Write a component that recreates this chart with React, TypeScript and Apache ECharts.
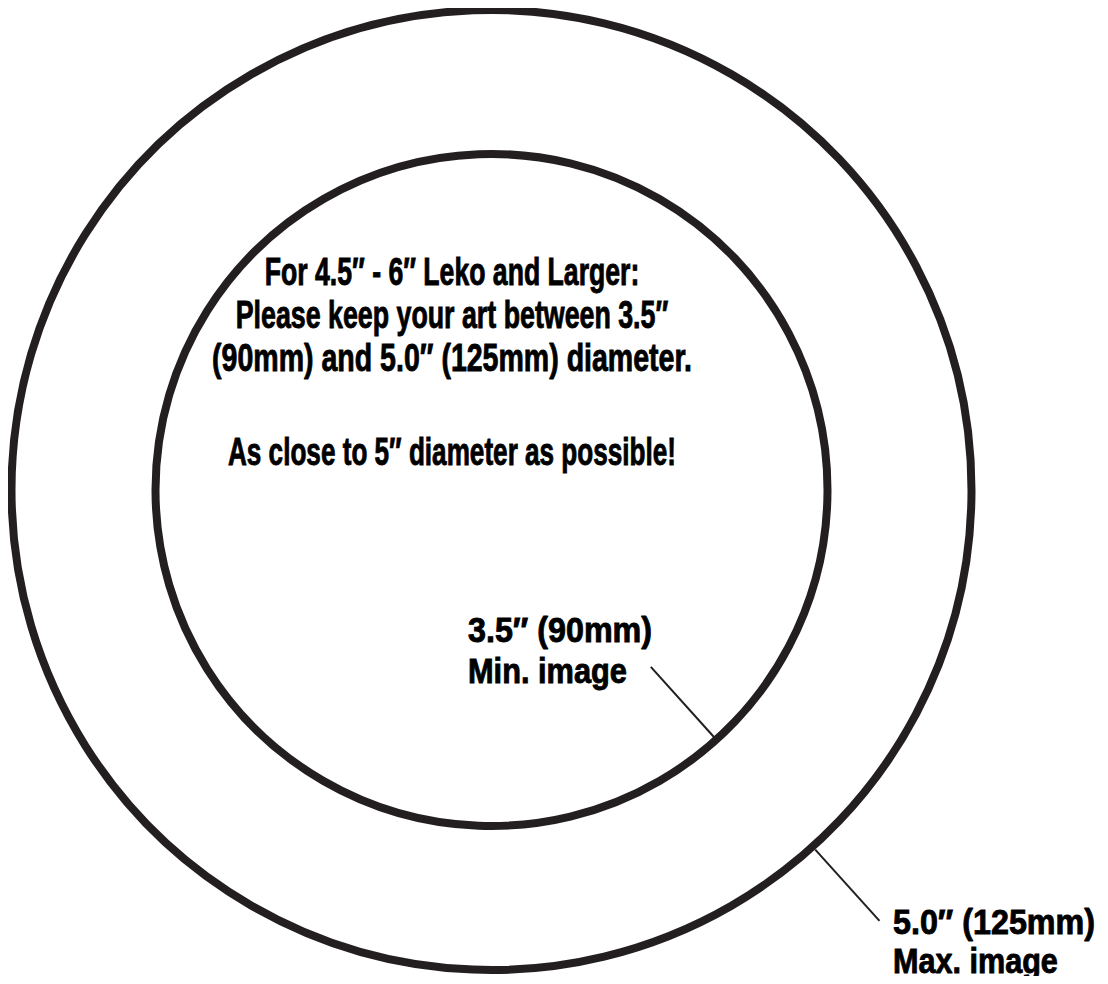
import React, { useEffect, useRef } from "react";
import * as echarts from "echarts";

// Ring diameters in inches (outer = max image, inner = min image)
const ringDiametersIn = [5.0, 3.5];
// Leader lines: [angle below horizontal (deg), from radius (in), to radius (in)]
const leaderLines = [
  [48, 2.52, 3.02],
  [48, 1.24, 1.74],
];
const noteLines = [
  "For 4.5″ - 6″ Leko and Larger:",
  "Please keep your art between 3.5″",
  "(90mm) and 5.0″ (125mm) diameter.",
  "As close to 5″ diameter as possible!",
];
const maxLabel = ["5.0″ (125mm)", "Max. image"];
const minLabel = ["3.5″ (90mm)", "Min. image"];

const FONT_FAMILY = '"Liberation Sans", Arial, Helvetica, sans-serif';
const INK = "#231f20";

function measure(text: string, size: number): number {
  const c = document.createElement("canvas");
  const ctx = c.getContext("2d")!;
  ctx.font = `bold ${size}px ${FONT_FAMILY}`;
  return ctx.measureText(text).width;
}

function textEl(text: string, x: number, baseline: number, size: number, width: number, align: string) {
  const natural = measure(text, size);
  const sx = natural > 0 ? width / natural : 1;
  return {
    type: "text",
    x,
    y: baseline - size * 0.35,
    scaleX: sx,
    style: {
      text,
      fill: "#000",
      stroke: "#000",
      lineWidth: 0.9,
      font: `bold ${size}px ${FONT_FAMILY}`,
      textAlign: align,
      textVerticalAlign: "middle",
    },
  };
}

export default function App() {
  const ref = useRef<HTMLDivElement>(null);
  useEffect(() => {
    if (!ref.current) return;
    const chart = echarts.init(ref.current, undefined, { renderer: "svg" });

    const noteBaselines = [277, 320, 363, 457];
    const noteWidths = [375, 433, 480, 448];
    const graphics: any[] = noteLines.map((t, i) =>
      textEl(t, 444, noteBaselines[i], 39, noteWidths[i], "center")
    );
    graphics.push(textEl(minLabel[0], 460, 634, 35, 184, "left"));
    graphics.push(textEl(minLabel[1], 460, 675, 35, 159, "left"));
    graphics.push(textEl(maxLabel[0], 885, 926, 35, 202, "left"));
    graphics.push(textEl(maxLabel[1], 885, 965, 35, 165, "left"));

    chart.setOption({
      animation: false,
      grid: { left: 3.5, top: 2, width: 960, height: 960 },
      xAxis: { type: "value", min: -2.5, max: 2.5, show: false },
      yAxis: { type: "value", min: -2.5, max: 2.5, show: false },
      series: [
        {
          type: "custom",
          clip: false,
          silent: true,
          data: ringDiametersIn.map((d) => [0, 0, d]),
          renderItem: (params: any, api: any) => {
            const c = api.coord([api.value(0), api.value(1)]);
            const d = api.value(2);
            const r = api.size([d / 2, d / 2])[0];
            return {
              type: "circle",
              shape: { cx: c[0], cy: c[1], r },
              style: { fill: "none", stroke: INK, lineWidth: 8 },
            };
          },
        },
        {
          type: "custom",
          clip: false,
          silent: true,
          data: leaderLines,
          renderItem: (params: any, api: any) => {
            const a = (api.value(0) * Math.PI) / 180;
            const r1 = api.value(1);
            const r2 = api.value(2);
            const p1 = api.coord([r1 * Math.cos(a), -r1 * Math.sin(a)]);
            const p2 = api.coord([r2 * Math.cos(a), -r2 * Math.sin(a)]);
            return {
              type: "line",
              shape: { x1: p1[0], y1: p1[1], x2: p2[0], y2: p2[1] },
              style: { stroke: INK, lineWidth: 2 },
            };
          },
        },
      ],
      graphic: graphics,
    });
    return () => chart.dispose();
  }, []);
  return <div ref={ref} style={{ width: 1092, height: 968 }} />;
}
